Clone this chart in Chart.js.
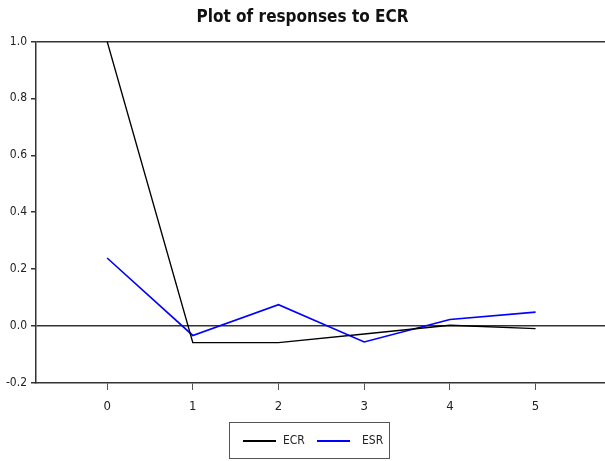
<!DOCTYPE html>
<html>
<head>
<meta charset="utf-8">
<script src="https://cdn.jsdelivr.net/npm/chart.js@4.4.0/dist/chart.umd.min.js"></script>
<style>
  body { margin: 0; background: #fff; }
  #wrap { position: relative; width: 605px; height: 461px; }
  #legend {
    position: absolute; left: 229px; top: 422px; width: 159px; height: 35px;
    border: 1px solid #555; font-family: 'Liberation Sans Narrow', 'Arial Narrow', 'DejaVu Sans Condensed', sans-serif;
    font-size: 12px; color: #222;
  }
  #legend .ln { position: absolute; top: 17px; width: 33px; height: 2px; }
  #legend .tx { position: absolute; top: 10px; }
</style>
</head>
<body>
<div id="wrap">
  <canvas id="myChart" width="605" height="461"></canvas>
  <div id="legend">
    <div class="ln" style="left:13px;background:#000"></div><div class="tx" style="left:53px">ECR</div>
    <div class="ln" style="left:87px;background:#0000ff"></div><div class="tx" style="left:132px">ESR</div>
  </div>
</div>
<script>
const periods = [0, 1, 2, 3, 4, 5];
const ecr = [1.0, -0.058, -0.058, -0.028, 0.003, -0.009];
const esr = [0.239, -0.033, 0.075, -0.056, 0.023, 0.049];
const yTicks = [-0.2, 0.0, 0.2, 0.4, 0.6, 0.8, 1.0];

const fontFamily = "'Liberation Sans Narrow', 'Arial Narrow', 'DejaVu Sans Condensed', sans-serif";

function toPoints(vals) {
  const pts = [];
  for (let i = 0; i < periods.length; i++) {
    pts.push({ x: periods[i], y: vals[i] });
  }
  return pts;
}

function renderChart() {
  const ctx = document.getElementById("myChart");
  const config = {
    type: "line",
    data: {
      datasets: [
        {
          label: "ECR",
          data: toPoints(ecr),
          borderColor: "#000000",
          borderWidth: 1.4,
          pointRadius: 0,
          tension: 0,
        },
        {
          label: "ESR",
          data: toPoints(esr),
          borderColor: "#0000ff",
          borderWidth: 1.6,
          pointRadius: 0,
          tension: 0,
        },
      ],
    },
    options: {
      responsive: false,
      animation: false,
      layout: { padding: { left: 0, right: 0, top: 0, bottom: 48 } },
      plugins: {
        legend: { display: false },
        tooltip: { enabled: false },
        title: {
          display: true,
          text: "Plot of responses to ECR",
          color: "#111",
          font: { family: fontFamily, size: 17, weight: "bold" },
          padding: { top: 7, bottom: 14 },
        },
      },
      scales: {
        x: {
          type: "linear",
          min: -0.83,
          max: 5.81,
          afterBuildTicks: (s) => { s.ticks = periods.map((v) => ({ value: v })); },
          afterFit: (s) => { s.height = 30; },
          grid: { drawOnChartArea: false, tickColor: "#555", tickLength: 7 },
          border: { color: "#333", width: 1.5 },
          ticks: { color: "#222", padding: 9, font: { family: fontFamily, size: 13 } },
        },
        y: {
          min: -0.2,
          max: 1.0,
          afterBuildTicks: (s) => { s.ticks = yTicks.map((v) => ({ value: v })); },
          afterFit: (s) => { s.width = 36; },
          grid: {
            color: (c) => (c.tick && (Math.abs(c.tick.value) < 1e-9 || Math.abs(c.tick.value - 1) < 1e-9) ? "#333" : "rgba(0,0,0,0)"),
            lineWidth: 1.5,
            tickColor: "#333",
            tickLength: 5,
          },
          border: { color: "#333", width: 1.5 },
          ticks: {
            color: "#222",
            padding: 4,
            font: { family: fontFamily, size: 12 },
            callback: (v) => v.toFixed(1),
          },
        },
      },
    },
  };
  new Chart(ctx, config);
}

renderChart();
</script>
</body>
</html>
